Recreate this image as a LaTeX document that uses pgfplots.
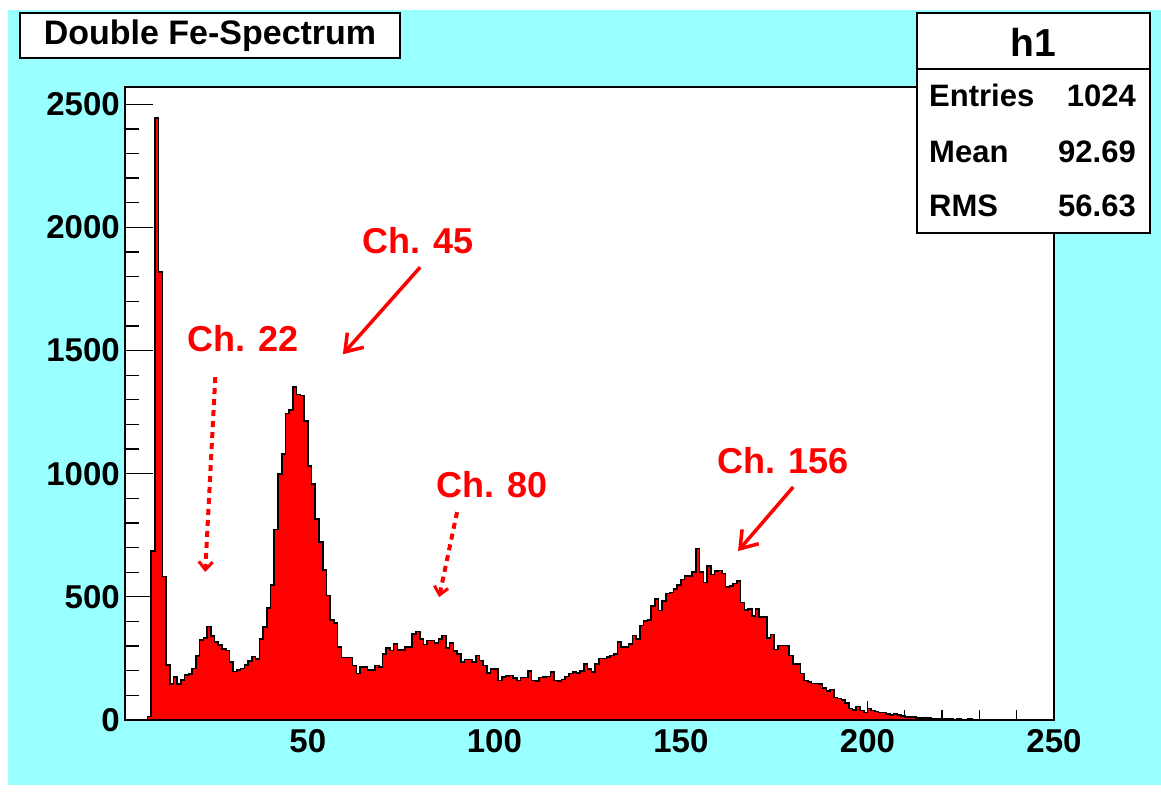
\documentclass[border=0pt]{standalone}
\usepackage{pgfplots}
\pgfplotsset{compat=1.18}
\usepackage{fontspec}
\setmainfont{Liberation Sans}
\usetikzlibrary{arrows.meta}
\definecolor{bgcyan}{RGB}{153,255,255}
\pgfplotstableread{
x y
1 0
2 0
3 0
4 0
5 0
6 0
7 14
8 685
9 2445
10 1820
11 582
12 223
13 146
14 175
15 146
16 163
17 183
18 187
19 209
20 260
21 325
22 334
23 380
24 342
25 317
26 305
27 288
28 282
29 235
30 197
31 202
32 209
33 223
34 240
35 257
36 248
37 329
38 377
39 454
40 548
41 774
42 998
43 1079
44 1245
45 1258
46 1352
47 1322
48 1318
49 1215
50 1031
51 959
52 817
53 722
54 608
55 505
56 407
57 394
58 296
59 253
60 253
61 253
62 222
63 188
64 215
65 215
66 202
67 202
68 222
69 215
70 269
71 293
72 282
73 309
74 285
75 285
76 296
77 296
78 349
79 359
80 329
81 306
82 323
83 323
84 312
85 329
86 343
87 293
88 312
89 280
90 269
91 235
92 245
93 245
94 235
95 262
96 242
97 222
98 191
99 208
100 208
101 161
102 175
103 178
104 181
105 170
106 161
107 172
108 172
109 199
110 161
111 159
112 172
113 175
114 177
115 195
116 161
117 159
118 165
119 177
120 188
121 195
122 192
123 199
124 228
125 208
126 195
127 228
128 249
129 249
130 255
131 262
132 269
133 316
134 296
135 296
136 309
137 343
138 329
139 383
140 403
141 406
142 464
143 491
144 444
145 484
146 513
147 517
148 531
149 548
150 571
151 585
152 585
153 602
154 696
155 602
156 558
157 625
158 591
159 605
160 607
161 594
162 540
163 544
164 554
165 564
166 477
167 446
168 450
169 423
170 450
171 419
172 419
173 333
174 347
175 286
176 302
177 302
178 302
179 262
180 228
181 228
182 188
183 161
184 155
185 148
186 148
187 145
188 130
189 117
190 124
191 91
192 87
193 81
194 70
195 47
196 40
197 54
198 38
199 30
200 47
201 38
202 34
203 30
204 30
205 24
206 20
207 24
208 20
209 16
210 13
211 13
212 11
213 9
214 8
215 7
216 7
217 6
218 5
219 6
220 4
221 3
222 3
223 2
224 3
225 2
226 2
227 3
228 2
229 1
230 2
231 2
232 1
233 2
234 1
235 1
236 2
237 1
238 1
239 1
240 1
241 2
242 1
243 1
244 1
245 1
246 1
247 1
248 1
249 1
250 1
}\hist
\begin{document}
\begin{tikzpicture}[x=1bp,y=1bp]
\fill[white] (0,0) rectangle (1161,792);
\fill[bgcyan] (8,7) rectangle (1161,782);
\useasboundingbox (0,0) rectangle (1161,792);
\begin{axis}[
  at={(125bp,72bp)}, anchor=south west,
  scale only axis, width=929bp, height=633bp,
  xmin=1, xmax=250, ymin=0, ymax=2570,
  axis background/.style={fill=white},
  axis line style={black, line width=1.5bp},
  xtick={50,100,150,200,250},
  minor xtick={10,20,30,40,60,70,80,90,110,120,130,140,160,170,180,190,210,220,230,240},
  ytick={0,500,1000,1500,2000,2500},
  minor ytick={100,200,300,400,600,700,800,900,1100,1200,1300,1400,1600,1700,1800,1900,2100,2200,2300,2400},
  tick align=inside,
  xtick pos=left, ytick pos=left,
  xtick style={black, line width=1.3bp, /pgfplots/major tick length=19bp, /pgfplots/minor tick length=9.5bp},
  ytick style={black, line width=1.3bp, /pgfplots/major tick length=28bp, /pgfplots/minor tick length=14bp},
  /pgf/number format/assume math mode=true,
  /pgf/number format/1000 sep={},
  tick label style={font=\fontsize{33bp}{33bp}\selectfont\bfseries},
  xticklabel style={inner sep=0pt, yshift=-9bp},
  yticklabel style={inner sep=0pt, xshift=-5bp},
  clip=false,
]
\addplot[const plot, fill=red, draw=black, line width=1.6bp] table[x=x,y=y] {\hist} \closedcycle;
\begin{scope}[every node/.style={text=red, font=\fontsize{36bp}{36bp}\selectfont\bfseries}]
\node at (axis cs:32.7,1550) {Ch. 22};
\node at (axis cs:79.6,1948) {Ch. 45};
\node at (axis cs:99.4,954) {Ch. 80};
\node at (axis cs:177.4,1051) {Ch. 156};
\end{scope}
\draw[red, line width=3.5bp, -{Straight Barb[length=16bp,width=22bp,line width=3.5bp]}] (axis cs:80.1,1838) -- (axis cs:59.4,1485);
\draw[red, line width=3.5bp, -{Straight Barb[length=16bp,width=22bp,line width=3.5bp]}] (axis cs:180.1,946) -- (axis cs:165.3,686);
\draw[red, line width=4bp, dash pattern=on 6bp off 5bp, -{Straight Barb[length=8bp,width=14bp,line width=3bp]}] (axis cs:25.2,1392) -- (axis cs:22.5,601);
\draw[red, line width=4bp, dash pattern=on 6bp off 5bp, -{Straight Barb[length=8bp,width=14bp,line width=3bp]}] (axis cs:90.0,844) -- (axis cs:85.2,499);
\end{axis}
% title box
\draw[fill=white, draw=black, line width=1.5bp] (20,734) rectangle (400,779);
\node[font=\fontsize{34bp}{34bp}\selectfont\bfseries] at (210,756.5) {Double Fe-Spectrum};
% stats box
\draw[fill=white, draw=black, line width=1.5bp] (917,559) rectangle (1150,779);
\draw[black, line width=1.5bp] (917,723) -- (1150,723);
\node[font=\fontsize{39bp}{39bp}\selectfont\bfseries] at (1033,750) {h1};
\begin{scope}[every node/.style={font=\fontsize{31bp}{31bp}\selectfont\bfseries, inner sep=0pt}]
\node[anchor=base west] at (929,685) {Entries};
\node[anchor=base east] at (1136,685) {1024};
\node[anchor=base west] at (929,629) {Mean};
\node[anchor=base east] at (1136,629) {92.69};
\node[anchor=base west] at (929,575) {RMS};
\node[anchor=base east] at (1136,575) {56.63};
\end{scope}
\end{tikzpicture}
\end{document}
